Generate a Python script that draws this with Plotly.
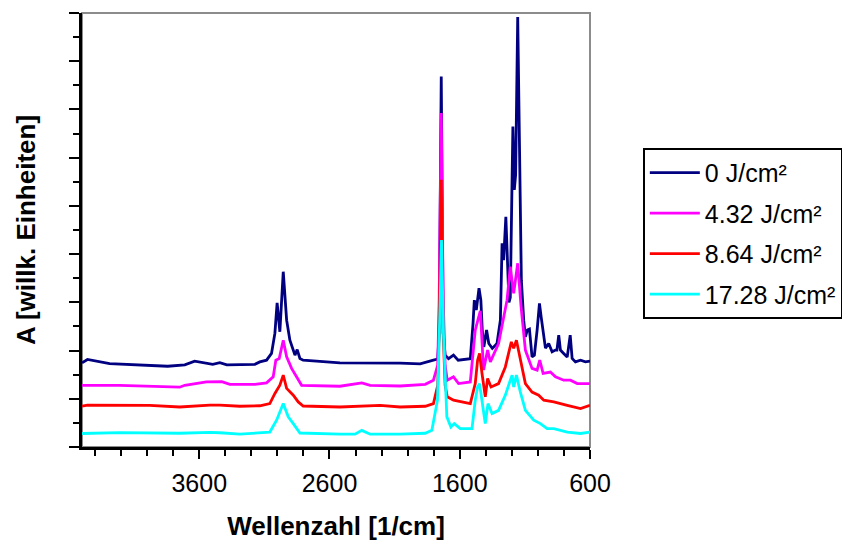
import plotly.graph_objects as go

# Wavenumber [1/cm] and absorbance (arbitrary units)
wn_0 = [4500, 4458, 4288, 3904, 3842, 3711, 3635, 3496, 3442, 3388, 3173, 3135, 3083, 3045, 3019,
        3002, 2981, 2955, 2929, 2904, 2865, 2848, 2827, 2802, 2520, 2058, 1904, 1802, 1769, 1758,
        1742, 1727, 1712, 1686, 1648, 1612, 1519, 1498, 1488, 1473, 1452, 1438, 1427, 1415, 1394,
        1377, 1350, 1314, 1288, 1275, 1263, 1246, 1232, 1222, 1212, 1192, 1181, 1171, 1155, 1140,
        1127, 1109, 1096, 1081, 1065, 1045, 1027, 1006, 988, 975, 960, 942, 917, 891, 865,
        854, 840, 827, 802, 775, 752, 737, 712, 673, 635, 600]
a_0 = [0.349, 0.363, 0.346, 0.339, 0.335, 0.341, 0.356, 0.343, 0.350, 0.341, 0.343, 0.353, 0.360, 0.388, 0.472,
       0.598, 0.478, 0.727, 0.526, 0.443, 0.381, 0.404, 0.367, 0.360, 0.349, 0.348, 0.345, 0.360, 0.365, 0.472,
       1.537, 0.472, 0.381, 0.366, 0.381, 0.360, 0.366, 0.512, 0.609, 0.568, 0.659, 0.609, 0.485, 0.415, 0.485,
       0.429, 0.409, 0.429, 0.526, 0.845, 0.775, 0.955, 0.775, 0.600, 0.620, 1.329, 1.066, 1.128, 1.783, 1.066,
       0.692, 0.526, 0.457, 0.485, 0.489, 0.374, 0.381, 0.485, 0.596, 0.540, 0.485, 0.410, 0.429, 0.395, 0.402,
       0.402, 0.464, 0.402, 0.388, 0.373, 0.464, 0.367, 0.353, 0.360, 0.353, 0.356]

wn_432 = [4500, 4211, 3750, 3711, 3545, 3458, 3427, 3365, 3173, 3083, 3032, 3012, 2986, 2955, 2929,
          2891, 2852, 2814, 2520, 2352, 2288, 2058, 1865, 1802, 1769, 1758, 1742, 1727, 1712, 1696,
          1648, 1609, 1519, 1481, 1442, 1417, 1386, 1365, 1302, 1250, 1237, 1212, 1186, 1155, 1129,
          1096, 1045, 1006, 986, 960, 904, 865, 802, 750, 698, 600]
a_432 = [0.256, 0.256, 0.248, 0.256, 0.270, 0.269, 0.271, 0.260, 0.260, 0.266, 0.291, 0.360, 0.367, 0.443, 0.374,
         0.326, 0.291, 0.256, 0.252, 0.266, 0.256, 0.253, 0.260, 0.277, 0.339, 0.609, 1.385, 0.609, 0.339, 0.277,
         0.291, 0.263, 0.270, 0.485, 0.565, 0.319, 0.402, 0.353, 0.429, 0.581, 0.609, 0.748, 0.637, 0.762, 0.581,
         0.402, 0.326, 0.319, 0.360, 0.305, 0.311, 0.291, 0.277, 0.277, 0.263, 0.263]

wn_864 = [4500, 4458, 3981, 3750, 3519, 3442, 3288, 3135, 3058, 3019, 2981, 2955, 2929, 2878, 2840,
          2802, 2520, 2212, 2058, 1865, 1802, 1769, 1758, 1742, 1727, 1712, 1696, 1648, 1519, 1481,
          1463, 1448, 1429, 1404, 1386, 1360, 1302, 1250, 1204, 1186, 1165, 1135, 1096, 1045, 994,
          955, 878, 775, 673, 600]
a_864 = [0.169, 0.174, 0.173, 0.166, 0.174, 0.174, 0.169, 0.171, 0.180, 0.222, 0.256, 0.298, 0.243, 0.215, 0.187,
         0.170, 0.166, 0.173, 0.166, 0.169, 0.180, 0.256, 0.485, 1.108, 0.472, 0.256, 0.208, 0.194, 0.180, 0.263,
         0.360, 0.388, 0.305, 0.208, 0.284, 0.249, 0.263, 0.332, 0.436, 0.409, 0.443, 0.360, 0.263, 0.228, 0.215,
         0.194, 0.187, 0.173, 0.159, 0.173]

wn_1728 = [4500, 4211, 3750, 3519, 3442, 3288, 3058, 3006, 2955, 2917, 2878, 2827, 2520, 2404, 2352,
           2288, 2058, 1865, 1814, 1771, 1750, 1740, 1725, 1699, 1668, 1642, 1596, 1506, 1481, 1463,
           1448, 1429, 1404, 1383, 1352, 1302, 1250, 1212, 1198, 1186, 1165, 1135, 1096, 1032, 981,
           929, 878, 775, 673, 600]
a_1728 = [0.056, 0.060, 0.057, 0.061, 0.059, 0.053, 0.062, 0.111, 0.180, 0.125, 0.097, 0.058, 0.053, 0.053, 0.069,
          0.053, 0.053, 0.057, 0.069, 0.194, 0.609, 0.858, 0.472, 0.125, 0.083, 0.097, 0.076, 0.076, 0.194, 0.249,
          0.263, 0.194, 0.097, 0.180, 0.139, 0.152, 0.215, 0.277, 0.298, 0.249, 0.298, 0.228, 0.152, 0.111, 0.097,
          0.076, 0.076, 0.062, 0.056, 0.062]

series_names = ["0 J/cm²", "4.32 J/cm²", "8.64 J/cm²", "17.28 J/cm²"]
series_colors = ["#000080", "#FF00FF", "#FF0000", "#00FFFF"]
series_x = [wn_0, wn_432, wn_864, wn_1728]
series_y = [a_0, a_432, a_864, a_1728]

x_ticks = [3600, 2600, 1600, 600]

FONT = "Arial, 'Liberation Sans', sans-serif"

fig = go.Figure()
for name, col, xs, ys in zip(series_names, series_colors, series_x, series_y):
    fig.add_trace(go.Scatter(x=xs, y=ys, mode="lines", name=name, legendgroup=name,
                             line=dict(color=col, width=2.8)))

fig.update_layout(
    width=842, height=538,
    margin=dict(l=74, r=260, t=5, b=99),
    paper_bgcolor="white", plot_bgcolor="white",
    font=dict(family=FONT, size=24, color="black"),
    showlegend=True,
    legend=dict(x=1.104, y=0.689, xanchor="left", yanchor="top",
                bordercolor="black", borderwidth=2, bgcolor="white",
                font=dict(family=FONT, size=25, color="black"),
                itemwidth=50, tracegroupgap=5),
    shapes=[dict(type="rect", xref="paper", yref="paper", x0=0, x1=1, y0=0, y1=1,
                 line=dict(color="#8c8c8c", width=2), layer="below")],
)

fig.update_xaxes(
    range=[4500, 600], tickmode="array", tickvals=x_ticks,
    ticks="outside", ticklen=9, tickwidth=2, tickcolor="black",
    showline=True, linecolor="black", linewidth=2.5,
    showgrid=False, zeroline=False,
    ticklabelstandoff=3,
    tickfont=dict(family=FONT, size=25, color="black"),
    minor=dict(tick0=600, dtick=200, ticks="outside", ticklen=6, tickwidth=2, tickcolor="black", showgrid=False),
    title=dict(text="<b>Wellenzahl [1/cm]</b>", font=dict(family=FONT, size=26, color="black"), standoff=22),
)
fig.update_yaxes(
    range=[0, 1.8], tick0=0, dtick=0.2,
    ticks="outside", ticklen=10, tickwidth=2, tickcolor="black",
    showticklabels=False,
    showline=True, linecolor="black", linewidth=2.5,
    showgrid=False, zeroline=False,
    minor=dict(tick0=0, dtick=0.1, ticks="outside", ticklen=6, tickwidth=2, tickcolor="black", showgrid=False),
    title=dict(text="<b>A [willk. Einheiten]</b>", font=dict(family=FONT, size=26, color="black"), standoff=27),
)

fig.write_html("out.html")
